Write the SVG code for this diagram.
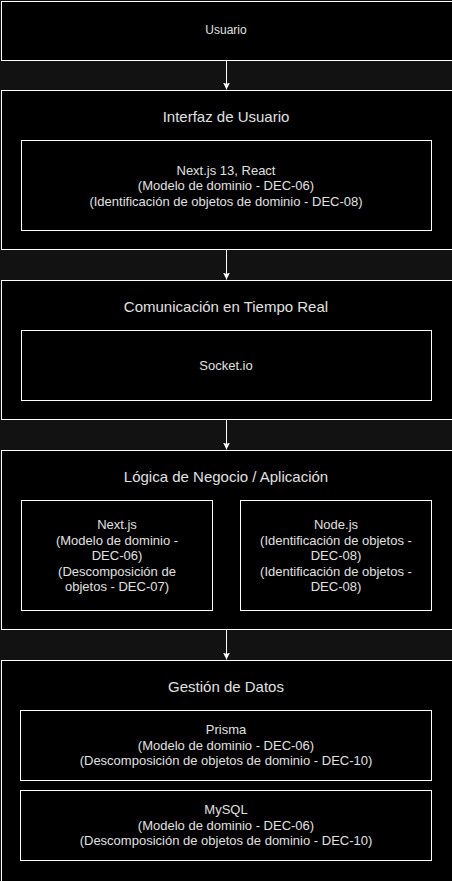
<svg xmlns="http://www.w3.org/2000/svg" width="452" height="881" viewBox="0 0 452 881">
<style>
.box{fill:#000;stroke:#fff;stroke-width:1}
.t{font-family:"Liberation Sans",Arial,sans-serif;font-size:13px;fill:#e0e0e0;text-anchor:middle;dominant-baseline:central}
.s{font-size:12px}
.h{font-size:15px}
.c{stroke:#fff;stroke-width:1;fill:none}
</style>
<defs>
<marker id="ah" markerWidth="8" markerHeight="8" refX="7" refY="4" orient="auto" markerUnits="userSpaceOnUse">
<path d="M0,0.5 L7,4 L0,7.5 L1.5,4 Z" fill="#fff"/>
</marker>
</defs>
<rect width="452" height="881" fill="#121212"/>
<g id="usuario">
<rect class="box" x="1.5" y="1.5" width="452" height="59"/>
<text class="t s" x="226" y="30">Usuario</text>
</g>
<g id="interfaz">
<rect class="box" x="1.5" y="90.5" width="452" height="159"/>
<text class="t h" x="226" y="116">Interfaz de Usuario</text>
</g>
<g id="nextreact">
<rect class="box" x="21.5" y="140.5" width="410" height="90"/>
<text class="t" x="226" y="170">Next.js 13, React</text>
<text class="t" x="226" y="185.5">(Modelo de dominio - DEC-06)</text>
<text class="t" x="226" y="201">(Identificación de objetos de dominio - DEC-08)</text>
</g>
<g id="comunicacion">
<rect class="box" x="1.5" y="280.5" width="452" height="139"/>
<text class="t h" x="226" y="306">Comunicación en Tiempo Real</text>
</g>
<g id="socket">
<rect class="box" x="21.5" y="330.5" width="410" height="70"/>
<text class="t" x="226" y="365">Socket.io</text>
</g>
<g id="logica">
<rect class="box" x="1.5" y="450.5" width="452" height="179"/>
<text class="t h" x="226" y="476">Lógica de Negocio / Aplicación</text>
</g>
<g id="nextjs">
<rect class="box" x="21.5" y="500.5" width="191" height="110"/>
<text class="t" x="117" y="524.5">Next.js</text>
<text class="t" x="117" y="540">(Modelo de dominio -</text>
<text class="t" x="117" y="555.5">DEC-06)</text>
<text class="t" x="117" y="571">(Descomposición de</text>
<text class="t" x="117" y="586.5">objetos - DEC-07)</text>
</g>
<g id="nodejs">
<rect class="box" x="240.5" y="500.5" width="191" height="110"/>
<text class="t" x="336" y="524.5">Node.js</text>
<text class="t" x="336" y="540">(Identificación de objetos -</text>
<text class="t" x="336" y="555.5">DEC-08)</text>
<text class="t" x="336" y="571">(Identificación de objetos -</text>
<text class="t" x="336" y="586.5">DEC-08)</text>
</g>
<g id="gestion">
<rect class="box" x="1.5" y="660.5" width="452" height="240"/>
<text class="t h" x="226" y="686">Gestión de Datos</text>
</g>
<g id="prisma">
<rect class="box" x="20.5" y="710.5" width="411" height="70"/>
<text class="t" x="226" y="729.5">Prisma</text>
<text class="t" x="226" y="745">(Modelo de dominio - DEC-06)</text>
<text class="t" x="226" y="760.5">(Descomposición de objetos de dominio - DEC-10)</text>
</g>
<g id="mysql">
<rect class="box" x="20.5" y="790.5" width="411" height="70"/>
<text class="t" x="226" y="809.5">MySQL</text>
<text class="t" x="226" y="825">(Modelo de dominio - DEC-06)</text>
<text class="t" x="226" y="840.5">(Descomposición de objetos de dominio - DEC-10)</text>
</g>
<g id="connectors">
<path class="c" d="M226.5,60.5 L226.5,89.5" marker-end="url(#ah)"/>
<path class="c" d="M226.5,249.5 L226.5,279.5" marker-end="url(#ah)"/>
<path class="c" d="M226.5,419.5 L226.5,449.5" marker-end="url(#ah)"/>
<path class="c" d="M226.5,629.5 L226.5,659.5" marker-end="url(#ah)"/>
</g>
</svg>
